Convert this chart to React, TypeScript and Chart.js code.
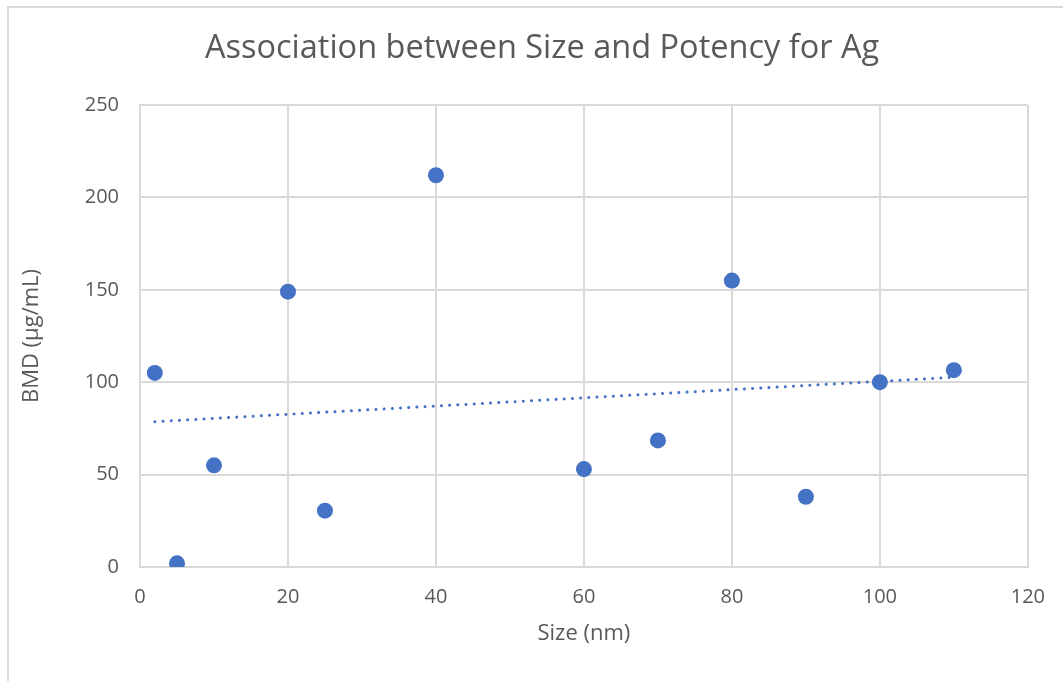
import React, { useEffect, useRef } from "react";
import { Chart, registerables } from "chart.js";

Chart.register(...registerables);

const chartTitle = "Association between Size and Potency for Ag";
const xAxisTitle = "Size (nm)";
const yAxisTitle = "BMD (µg/mL)";
const sizes = [2, 5, 10, 20, 25, 40, 60, 70, 80, 90, 100, 110];
const bmdValues = [105, 2, 55, 149, 30.5, 212, 53, 68.5, 155, 38, 100, 106.5];
const xTicks = [0, 20, 40, 60, 80, 100, 120];
const yTicks = [0, 50, 100, 150, 200, 250];

const BLUE = "#4472C4";
const GRID = "#d9d9d9";
const TEXT = "#595959";
const FONT = "'Open Sans', 'Noto Sans', sans-serif";

function linearTrend(xs: number[], ys: number[]) {
  const n = xs.length;
  const mx = xs.reduce((a, b) => a + b, 0) / n;
  const my = ys.reduce((a, b) => a + b, 0) / n;
  let sxy = 0;
  let sxx = 0;
  for (let i = 0; i < n; i++) {
    sxy += (xs[i] - mx) * (ys[i] - my);
    sxx += (xs[i] - mx) * (xs[i] - mx);
  }
  const slope = sxy / sxx;
  const intercept = my - slope * mx;
  const x0 = Math.min(...xs);
  const x1 = Math.max(...xs);
  return [
    { x: x0, y: intercept + slope * x0 },
    { x: x1, y: intercept + slope * x1 },
  ];
}

const titlePlugin = {
  id: "centeredTitle",
  afterDraw(chart: any) {
    const ctx = chart.ctx;
    ctx.save();
    ctx.font = `normal 32.5px ${FONT}`;
    ctx.fillStyle = TEXT;
    ctx.textAlign = "center";
    ctx.textBaseline = "middle";
    ctx.fillText(chartTitle, 542, 49);
    ctx.restore();
  },
};

export default function App() {
  const canvasRef = useRef<HTMLCanvasElement | null>(null);

  useEffect(() => {
    const canvas = canvasRef.current;
    if (!canvas) return;
    const points = sizes.map((s, i) => ({ x: s, y: bmdValues[i] }));
    const trend = linearTrend(sizes, bmdValues);

    const chart = new Chart(canvas, {
      type: "scatter",
      data: {
        datasets: [
          {
            label: "BMD",
            data: points,
            backgroundColor: BLUE,
            borderColor: BLUE,
            borderWidth: 0,
            pointRadius: 8,
            pointHoverRadius: 8,
            order: 1,
          },
          {
            type: "line",
            label: "Trend",
            data: trend,
            borderColor: BLUE,
            borderWidth: 3,
            borderDash: [0.1, 8.1],
            borderCapStyle: "round",
            pointRadius: 0,
            fill: false,
            order: 2,
          } as any,
        ],
      },
      plugins: [titlePlugin],
      options: {
        responsive: false,
        animation: false,
        layout: { padding: { left: 10, right: 34, top: 105, bottom: 0 } },
        plugins: {
          legend: { display: false },
          tooltip: { enabled: false },
          title: { display: false },
        },
        scales: {
          x: {
            type: "linear",
            min: xTicks[0],
            max: xTicks[xTicks.length - 1],
            afterFit: (scale: any) => {
              scale.height = 114;
            },
            afterBuildTicks: (scale: any) => {
              scale.ticks = xTicks.map((v) => ({ value: v }));
            },
            grid: { color: GRID, lineWidth: 2, drawTicks: false },
            border: { color: GRID, width: 2 },
            ticks: {
              color: TEXT,
              font: { family: FONT, size: 20 },
              padding: 18,
            },
            title: {
              display: true,
              text: xAxisTitle,
              color: TEXT,
              font: { family: FONT, size: 22, lineHeight: 1.2 },
              padding: { top: 0, bottom: 33.8 },
            },
          },
          y: {
            type: "linear",
            min: yTicks[0],
            max: yTicks[yTicks.length - 1],
            afterFit: (scale: any) => {
              scale.width = 130;
            },
            afterBuildTicks: (scale: any) => {
              scale.ticks = yTicks.map((v) => ({ value: v }));
            },
            grid: { color: GRID, lineWidth: 2, drawTicks: false },
            border: { color: GRID, width: 2 },
            ticks: {
              color: TEXT,
              font: { family: FONT, size: 20 },
              padding: 21,
            },
            title: {
              display: true,
              text: yAxisTitle,
              color: TEXT,
              font: { family: FONT, size: 22, lineHeight: 1.2 },
              padding: { top: 8.8, bottom: 0 },
            },
          },
        },
      },
    });

    return () => chart.destroy();
  }, []);

  return (
    <div style={{ position: "absolute", left: 0, top: 0, width: 1063, height: 681, overflow: "hidden", background: "#fff" }}>
      <div
        style={{
          position: "absolute",
          left: 7,
          top: 6,
          width: 1100,
          height: 700,
          borderTop: `2px solid ${GRID}`,
          borderLeft: `2px solid ${GRID}`,
        }}
      />
      <canvas ref={canvasRef} width={1063} height={681} style={{ position: "absolute", left: 0, top: 0 }} />
    </div>
  );
}
